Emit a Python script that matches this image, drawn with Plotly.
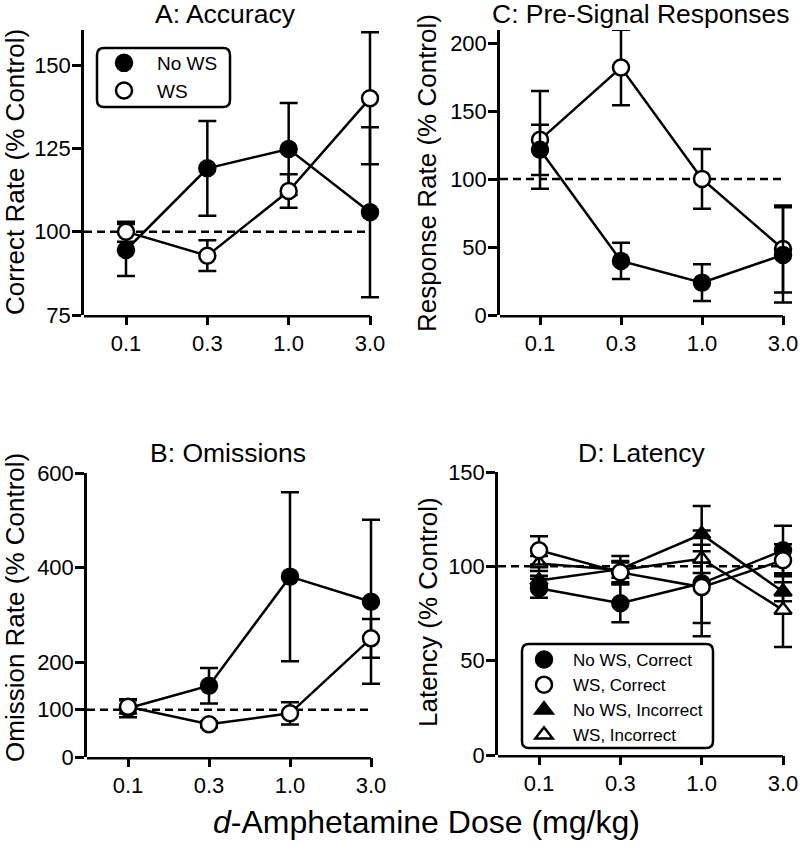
import plotly.graph_objects as go

# ---------------- data ----------------
doses = ["0.1", "0.3", "1.0", "3.0"]
baseline = 100

# A: Accuracy
acc_nows = [94.5, 119.0, 124.8, 105.8]
acc_nows_err = [7.8, 14.2, 13.8, 25.5]
acc_ws = [100.0, 92.8, 112.2, 140.0]
acc_ws_err = [3.0, 4.6, 5.0, 19.8]

# B: Omissions
om_nows = [103.0, 150.6, 381.0, 328.0]
om_nows_err = [19.0, 37.6, 178.5, 173.0]
om_ws = [106.0, 69.0, 92.3, 250.7]
om_ws_err = [14.0, 6.0, 23.6, 41.0]

# C: Pre-Signal Responses
pre_nows = [121.5, 39.8, 23.8, 44.2]
pre_nows_err = [18.5, 13.3, 13.5, 35.0]
pre_ws = [128.8, 182.0, 100.1, 48.5]
pre_ws_err = [36.0, 27.7, 22.0, 32.0]

# D: Latency
lat_nows_cor = [88.4, 80.4, 91.0, 108.5]
lat_nows_cor_err = [5.0, 10.0, 28.0, 13.0]
lat_ws_cor = [108.5, 96.8, 89.0, 103.2]
lat_ws_cor_err = [7.5, 6.0, 19.0, 8.5]
lat_nows_inc = [92.5, 98.5, 117.0, 86.5]
lat_nows_inc_err = [2.5, 7.0, 15.0, 5.0]
lat_ws_inc = [101.5, 98.0, 104.0, 76.8]
lat_ws_inc_err = [4.0, 4.0, 7.5, 19.5]

FONT = "Liberation Sans, Arial, Helvetica, sans-serif"
W, H = 800, 845
LW = 2.5


def px(x):
    return x / W


def py(y):
    return 1 - y / H


fig = go.Figure()


def add_series(xa, ya, y, err, symbol, filled, size=16):
    fig.add_trace(go.Scatter(
        x=doses, y=y, mode="lines+markers",
        line=dict(color="black", width=LW),
        marker=dict(symbol=symbol, size=size,
                    color="black" if filled else "white",
                    line=dict(color="black", width=LW)),
        error_y=dict(type="data", array=err, visible=True, color="black",
                     thickness=LW, width=9),
        cliponaxis=False, showlegend=False, xaxis=xa, yaxis=ya,
        hoverinfo="x+y"))


def add_key(name, symbol, filled, legend, size=16):
    fig.add_trace(go.Scatter(
        x=[None], y=[None], mode="markers", name=name,
        marker=dict(symbol=symbol, size=size,
                    color="black" if filled else "white",
                    line=dict(color="black", width=LW)),
        legend=legend, showlegend=True))


# A
add_series("x", "y", acc_nows, acc_nows_err, "circle", True)
add_series("x", "y", acc_ws, acc_ws_err, "circle", False)
# C
add_series("x2", "y2", pre_ws, pre_ws_err, "circle", False)
add_series("x2", "y2", pre_nows, pre_nows_err, "circle", True)
# B
add_series("x3", "y3", om_nows, om_nows_err, "circle", True)
add_series("x3", "y3", om_ws, om_ws_err, "circle", False)
# D
add_series("x4", "y4", lat_nows_cor, lat_nows_cor_err, "circle", True)
add_series("x4", "y4", lat_nows_inc, lat_nows_inc_err, "triangle-up", True, 15)
add_series("x4", "y4", lat_ws_inc, lat_ws_inc_err, "triangle-up", False, 15)
add_series("x4", "y4", lat_ws_cor, lat_ws_cor_err, "circle", False)

# legend keys
add_key("No WS", "circle", True, "legend")
add_key("WS", "circle", False, "legend")
add_key("No WS, Correct", "circle", True, "legend2")
add_key("WS, Correct", "circle", False, "legend2")
add_key("No WS, Incorrect", "triangle-up", True, "legend2", 15)
add_key("WS, Incorrect", "triangle-up", False, "legend2", 15)

tickfont = dict(family=FONT, size=22, color="black")
common = dict(showgrid=False, zeroline=False, ticks="outside", ticklen=9,
              tickwidth=LW, tickcolor="black", tickfont=tickfont)

EXT = 0.15  # extra room on the right so the last error bars are not clipped
# name: (axis-left px, first tick px, last tick px, top px, bottom px, y range, y ticks)
panels = {
    "": (84, 126, 370, 30, 315, [75, 160.5], [75, 100, 125, 150]),
    "2": (500, 540, 783, 30, 315, [0, 209.6], [0, 50, 100, 150, 200]),
    "3": (87, 128, 371, 473, 757, [0, 600], [0, 100, 200, 400, 600]),
    "4": (498, 539, 783, 472, 755, [0, 150], [0, 50, 100, 150]),
}
layout = {}
shapes = []
for k, (L, T0, T3, top, bot, yr, yt) in panels.items():
    s = (T3 - T0) / 3.0
    left = -(T0 - L) / s
    right_px = T3 + EXT * s
    layout["xaxis" + k] = dict(common, domain=[px(L), px(right_px)], anchor="y" + k,
                               type="category", categoryarray=doses,
                               range=[left, 3 + EXT], showline=False)
    layout["yaxis" + k] = dict(common, domain=[py(bot), py(top)], anchor="x" + k,
                               range=yr, tickvals=yt, showline=True,
                               linecolor="black", linewidth=LW,
                               ticklabelstandoff=-3)
    hplot = bot - top
    off = -(LW / 2) / hplot
    # x-axis line stopping at the last dose tick
    shapes.append(dict(type="line", xref="x" + k, yref=f"y{k} domain",
                       x0=left - (LW / s), x1=3.0, y0=off, y1=off,
                       line=dict(color="black", width=LW)))
    # dashed reference line at 100 %
    shapes.append(dict(type="line", xref="x" + k, yref="y" + k,
                       x0=left, x1=3.0, y0=baseline, y1=baseline, layer="below",
                       line=dict(color="black", width=LW, dash="8px,5px")))
fig.update_layout(**layout)


def rrect(x0, y0, x1, y1, r):
    X = lambda v: f"{px(v):.5f}"
    Y = lambda v: f"{py(v):.5f}"
    return (f"M {X(x0 + r)},{Y(y0)} L {X(x1 - r)},{Y(y0)} Q {X(x1)},{Y(y0)} {X(x1)},{Y(y0 + r)} "
            f"L {X(x1)},{Y(y1 - r)} Q {X(x1)},{Y(y1)} {X(x1 - r)},{Y(y1)} "
            f"L {X(x0 + r)},{Y(y1)} Q {X(x0)},{Y(y1)} {X(x0)},{Y(y1 - r)} "
            f"L {X(x0)},{Y(y0 + r)} Q {X(x0)},{Y(y0)} {X(x0 + r)},{Y(y0)} Z")


shapes.append(dict(type="path", xref="paper", yref="paper",
                   path=rrect(97, 48, 230, 107, 7),
                   line=dict(color="black", width=LW)))
shapes.append(dict(type="path", xref="paper", yref="paper",
                   path=rrect(522, 644, 713, 748, 7),
                   line=dict(color="black", width=LW)))

annotations = []


def ann(text, x, y, size, angle=0):
    annotations.append(dict(text=text, x=px(x), y=py(y), xref="paper", yref="paper",
                            xanchor="center", yanchor="middle", showarrow=False,
                            textangle=angle,
                            font=dict(family=FONT, size=size, color="black")))


ann("A: Accuracy", 226, 14, 26.5)
ann("C: Pre-Signal Responses", 641, 14, 26.5)
ann("B: Omissions", 228, 453, 26.5)
ann("D: Latency", 641, 453, 26.5)
ann("Correct Rate (% Control)", 15, 172, 26, -90)
ann("Response Rate (% Control)", 427, 173, 26, -90)
ann("Omission Rate (% Control)", 15, 608, 26, -90)
ann("Latency (% Control)", 428, 612, 26, -90)
ann("<i>d</i>-Amphetamine Dose (mg/kg)", 427, 822, 32)

fig.update_layout(
    width=W, height=H,
    margin=dict(l=0, r=0, t=0, b=0, pad=0, autoexpand=False),
    paper_bgcolor="white", plot_bgcolor="white",
    shapes=shapes, annotations=annotations,
    font=dict(family=FONT, color="black"),
    legend=dict(x=px(91), y=py(44), xanchor="left", yanchor="top",
                itemwidth=56, bgcolor="rgba(0,0,0,0)", borderwidth=0,
                font=dict(family=FONT, size=19, color="black")),
    legend2=dict(x=px(515), y=py(642), xanchor="left", yanchor="top",
                 itemwidth=48, bgcolor="rgba(0,0,0,0)", borderwidth=0,
                 font=dict(family=FONT, size=17, color="black")),
)

fig.write_html("out.html", config={"displayModeBar": False},
               post_script="document.body.style.margin='0';document.body.style.padding='0';")
